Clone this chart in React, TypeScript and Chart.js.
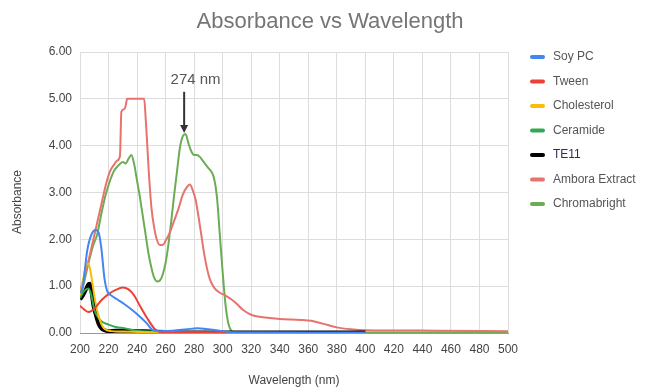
import React, { useEffect, useRef } from "react";
import { Chart, registerables } from "chart.js";

Chart.register(...registerables);

const FONT = "'Liberation Sans', Arial, sans-serif";

const CHART_TITLE = "Absorbance vs Wavelength";
const X_TITLE = "Wavelength (nm)";
const Y_TITLE = "Absorbance";
const X_MIN = 200;
const X_MAX = 500;
const X_STEP = 20;
const Y_MIN = 0;
const Y_MAX = 6;
const Y_STEP = 1;

const SERIES_NAMES = ["Soy PC", "Tween", "Cholesterol", "Ceramide", "TE11", "Ambora Extract", "Chromabright"];
const SERIES_COLORS = ["#4285f4", "#ea4335", "#fbbc04", "#34a853", "#000000", "#e8736e", "#6aad55"];
const SERIES_WIDTHS = [2, 2, 2, 2, 4, 2, 2];

const soyPcX = [200, 202, 205, 208, 211, 213, 215, 217, 219, 222, 226, 231, 237, 243, 247, 251, 255, 265, 275, 282, 290, 300, 310, 400];
const soyPcY = [0.85, 1.0, 1.75, 2.1, 2.2, 2.15, 1.8, 1.2, 0.9, 0.8, 0.72, 0.62, 0.48, 0.32, 0.2, 0.06, 0.04, 0.05, 0.08, 0.1, 0.08, 0.04, 0.0, 0.0];

const tweenX = [200, 203, 206, 210, 215, 220, 225, 230, 234, 238, 242, 247, 252, 256, 260, 400];
const tweenY = [0.58, 0.5, 0.45, 0.52, 0.7, 0.83, 0.92, 0.97, 0.93, 0.8, 0.58, 0.32, 0.1, 0.02, 0.0, 0.0];

const cholesterolX = [200, 202, 204, 206, 208, 210, 212, 214, 216, 218, 222, 230, 260, 400];
const cholesterolY = [0.8, 1.1, 1.42, 1.48, 1.2, 0.8, 0.48, 0.27, 0.13, 0.07, 0.04, 0.03, 0.01, 0.0];

const ceramideX = [200, 203, 206, 208, 210, 213, 216, 220, 225, 231, 240, 250, 260, 270, 400];
const ceramideY = [0.75, 0.9, 0.95, 0.8, 0.5, 0.32, 0.23, 0.18, 0.13, 0.1, 0.05, 0.03, 0.02, 0.01, 0.01];

const te11X = [200, 202, 204, 206, 207, 208, 209.5, 211, 213, 215, 218, 220, 225, 230, 240, 250, 260, 280, 300, 400];
const te11Y = [0.72, 0.8, 0.92, 1.04, 1.05, 0.9, 0.58, 0.4, 0.2, 0.1, 0.05, 0.04, 0.05, 0.05, 0.04, 0.03, 0.02, 0.01, 0.01, 0.01];

const amboraX = [200, 203, 206, 209, 212, 215, 218, 221, 224, 226, 228, 229, 231, 232, 233, 245, 246, 247, 248, 250, 252, 254, 256, 258, 260, 263, 266, 269, 272, 275, 277, 279, 281, 283, 285, 287, 289, 291, 294, 298, 302, 306, 310, 314, 318, 322, 330, 340, 355, 362, 370, 380, 390, 400, 450, 500];
const amboraY = [0.9, 1.2, 1.55, 1.95, 2.35, 2.75, 3.15, 3.45, 3.6, 3.68, 3.78, 4.72, 4.78, 4.85, 5.0, 5.0, 4.6, 4.1, 3.55, 2.7, 2.25, 1.98, 1.88, 1.88, 1.97, 2.15, 2.4, 2.65, 2.95, 3.12, 3.17, 3.05, 2.85, 2.5, 2.1, 1.7, 1.38, 1.15, 0.97, 0.86, 0.8, 0.72, 0.62, 0.5, 0.42, 0.37, 0.33, 0.3, 0.28, 0.26, 0.2, 0.12, 0.08, 0.06, 0.05, 0.04];

const chromaX = [200, 203, 206, 209, 212, 215, 218, 221, 224, 227, 230, 232, 234, 236, 238, 240, 242, 244, 246, 248, 250, 252, 254, 256, 258, 260, 262, 264, 266, 268, 270, 272, 274, 276, 278, 280, 282, 284, 286, 288, 290, 292, 294, 296, 298, 300, 302, 304, 306, 308, 400, 500];
const chromaY = [0.75, 1.1, 1.5, 1.85, 2.1, 2.55, 2.95, 3.25, 3.47, 3.58, 3.65, 3.62, 3.72, 3.8, 3.6, 3.25, 2.9, 2.5, 2.1, 1.7, 1.4, 1.18, 1.1, 1.12, 1.25, 1.5, 1.9, 2.4, 2.95, 3.45, 3.95, 4.2, 4.25, 4.05, 3.88, 3.8, 3.8, 3.76, 3.68, 3.6, 3.52, 3.45, 3.3, 2.9, 2.1, 1.3, 0.6, 0.2, 0.05, 0.01, 0.01, 0.01];

const SERIES_X = [soyPcX, tweenX, cholesterolX, ceramideX, te11X, amboraX, chromaX];
const SERIES_Y = [soyPcY, tweenY, cholesterolY, ceramideY, te11Y, amboraY, chromaY];

const ANNOTATION_TEXT = "274 nm";
const ARROW_X = 273;
const ARROW_TOP = 5.15;
const ARROW_TIP = 4.27;
const ANNOTATION_TEXT_X = 281;
const ANNOTATION_TEXT_Y = 5.4;

const titlePlugin = {
  id: "customTitle",
  afterDraw(chart: any) {
    const ctx = chart.ctx;
    ctx.save();
    ctx.fillStyle = "#757575";
    ctx.font = `22px ${FONT}`;
    ctx.textAlign = "center";
    ctx.textBaseline = "middle";
    ctx.fillText(CHART_TITLE, 330, 22);
    ctx.translate(18, 202);
    ctx.rotate(-Math.PI / 2);
    ctx.fillStyle = "#444444";
    ctx.font = `12px ${FONT}`;
    ctx.fillText(Y_TITLE, 0, 0);
    ctx.restore();
  },
};

const legendPlugin = {
  id: "customLegend",
  afterDraw(chart: any) {
    const ctx = chart.ctx;
    ctx.save();
    chart.data.datasets.forEach((ds: any, i: number) => {
      const y = 57 + i * 24.5;
      ctx.strokeStyle = ds.borderColor;
      ctx.lineWidth = 4;
      ctx.lineCap = "round";
      ctx.beginPath();
      ctx.moveTo(532, y);
      ctx.lineTo(543, y);
      ctx.stroke();
      ctx.fillStyle = ds.label === "TE11" ? "#2e2e5c" : "#555555";
      ctx.font = `12px ${FONT}`;
      ctx.textBaseline = "middle";
      ctx.textAlign = "left";
      ctx.fillText(ds.label, 553, y);
    });
    ctx.restore();
  },
};

const annotationPlugin = {
  id: "arrowAnnotation",
  afterDatasetsDraw(chart: any) {
    const ctx = chart.ctx;
    const xs = chart.scales.x;
    const ys = chart.scales.y;
    const ax = xs.getPixelForValue(ARROW_X);
    const top = ys.getPixelForValue(ARROW_TOP);
    const tip = ys.getPixelForValue(ARROW_TIP);
    ctx.save();
    ctx.strokeStyle = "#333333";
    ctx.fillStyle = "#333333";
    ctx.lineWidth = 2;
    ctx.beginPath();
    ctx.moveTo(ax, top);
    ctx.lineTo(ax, tip - 7);
    ctx.stroke();
    ctx.beginPath();
    ctx.moveTo(ax - 4, tip - 8);
    ctx.lineTo(ax + 4, tip - 8);
    ctx.lineTo(ax, tip);
    ctx.closePath();
    ctx.fill();
    ctx.fillStyle = "#555555";
    ctx.font = `15px ${FONT}`;
    ctx.textAlign = "center";
    ctx.textBaseline = "middle";
    ctx.fillText(ANNOTATION_TEXT, xs.getPixelForValue(ANNOTATION_TEXT_X), ys.getPixelForValue(ANNOTATION_TEXT_Y));
    ctx.restore();
  },
};

export default function App() {
  const ref = useRef<HTMLCanvasElement | null>(null);
  useEffect(() => {
    if (!ref.current) return;
    const datasets = SERIES_NAMES.map((name, i) => ({
      label: name,
      data: SERIES_X[i].map((x, j) => ({ x, y: SERIES_Y[i][j] })),
      borderColor: SERIES_COLORS[i],
      backgroundColor: SERIES_COLORS[i],
      borderWidth: SERIES_WIDTHS[i],
      pointRadius: 0,
      cubicInterpolationMode: "monotone" as const,
      fill: false,
    }));
    const chart = new Chart(ref.current, {
      type: "line",
      data: { datasets },
      plugins: [annotationPlugin, legendPlugin, titlePlugin],
      options: {
        animation: false,
        responsive: false,
        maintainAspectRatio: false,
        layout: { padding: { left: 0, right: 140, top: 52, bottom: 0 } },
        plugins: {
          legend: { display: false },
          tooltip: { enabled: false },
          title: { display: false },
        },
        scales: {
          x: {
            type: "linear",
            min: X_MIN,
            max: X_MAX,
            ticks: {
              stepSize: X_STEP,
              color: "#444444",
              font: { family: FONT, size: 12 },
              padding: 9,
              maxRotation: 0,
              autoSkip: false,
            },
            grid: { color: "#dddddd", drawTicks: false },
            border: { color: "#999999" },
            title: {
              display: true,
              text: X_TITLE,
              color: "#444444",
              font: { family: FONT, size: 12 },
              padding: { top: 4, bottom: 0 },
            },
            afterFit(scale: any) {
              scale.height = 55;
            },
          },
          y: {
            type: "linear",
            min: Y_MIN,
            max: Y_MAX,
            ticks: {
              stepSize: Y_STEP,
              color: "#444444",
              font: { family: FONT, size: 12 },
              padding: 8,
              callback: (v: any) => Number(v).toFixed(2),
            },
            grid: { color: "#dddddd", drawTicks: false },
            border: { display: false },
            title: { display: false },
            afterFit(scale: any) {
              scale.width = 80;
            },
          },
        },
      },
    });
    return () => chart.destroy();
  }, []);
  return (
    <div style={{ position: "absolute", left: 0, top: 0, width: 648, height: 388, background: "#ffffff" }}>
      <canvas ref={ref} width={648} height={388} style={{ display: "block" }} />
    </div>
  );
}
